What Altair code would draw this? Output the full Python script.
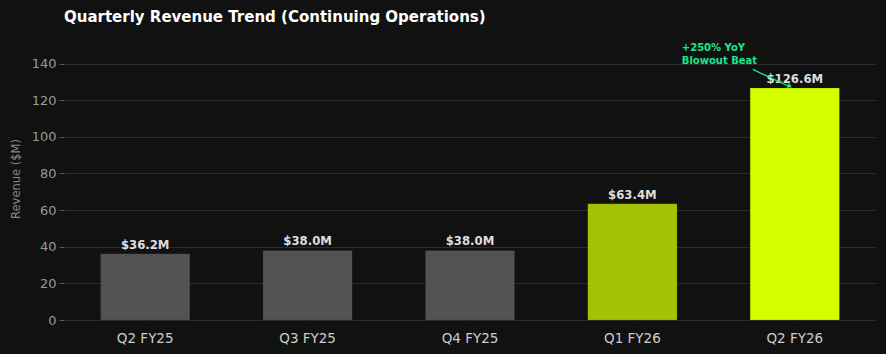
import altair as alt
import pandas as pd

quarters = ["Q2 FY25", "Q3 FY25", "Q4 FY25", "Q1 FY26", "Q2 FY26"]
revenue = [36.2, 38.0, 38.0, 63.4, 126.6]
labels = ["$36.2M", "$38.0M", "$38.0M", "$63.4M", "$126.6M"]
bar_colors = ["#535353", "#535353", "#535353", "#a3c304", "#d4ff00"]
y_ticks = [0, 20, 40, 60, 80, 100, 120, 140]

annot_quarter = ["Q2 FY26"]
annot_text = [["+250% YoY", "Blowout Beat"]]
annot_y = [148.3]
arrow_start = [136.8]
arrow_end = [127.6]

df = pd.DataFrame({"q": quarters, "rev": revenue, "label": labels, "color": bar_colors})
ann = pd.DataFrame({"q": annot_quarter, "text": annot_text, "y": annot_y,
                    "y1": arrow_start, "y2": arrow_end})

x = alt.X("q:N", sort=quarters, title=None,
          scale=alt.Scale(paddingInner=0.45, paddingOuter=0.225),
          axis=alt.Axis(labelAngle=0, labelColor="#cccccc", labelFontSize=13.5,
                        labelFont="DejaVu Sans", tickColor="#1a1a1a", tickSize=4,
                        labelPadding=7, domain=False, grid=False))
y = alt.Y("rev:Q", title="Revenue ($M)",
          scale=alt.Scale(domain=[0, 154.5], nice=False, zero=True),
          axis=alt.Axis(values=y_ticks, labelColor="#999999", labelFontSize=13,
                        labelFont="DejaVu Sans", tickColor="#555555", tickSize=5,
                        labelPadding=3, domain=False, gridColor="#2c2c2c",
                        gridWidth=1, titleColor="#888888", titleFontSize=11.5,
                        titleFont="DejaVu Sans", titleFontWeight="normal",
                        titlePadding=10))

base = alt.Chart(df)
bars = base.mark_bar(strokeWidth=1, stroke="#00000022").encode(
    x=x, y=y, color=alt.Color("color:N", scale=None))
texts = base.mark_text(fontWeight="bold", fontSize=11.7, color="#dddddd",
                       baseline="bottom", dy=-3, font="DejaVu Sans").encode(
    x=alt.X("q:N", sort=quarters), y="rev:Q", text="label:N")

ann_base = alt.Chart(ann)
ann_text = ann_base.mark_text(align="left", baseline="middle", fontWeight="bold",
                              fontSize=10, color="#19e68c", dx=-113, lineHeight=13,
                              font="DejaVu Sans").encode(
    x=alt.X("q:N", sort=quarters), y=alt.Y("y:Q"), text="text")
ann_rule = ann_base.mark_rule(color="#19e68c", strokeWidth=1.3, xOffset=-42,
                              x2Offset=-6).encode(
    x=alt.X("q:N", sort=quarters), x2=alt.X2("q"), y="y1:Q", y2="y2:Q")
ann_head = ann_base.mark_point(shape="triangle-right", filled=True, size=30,
                               color="#19e68c", opacity=1, angle=25,
                               xOffset=-5).encode(
    x=alt.X("q:N", sort=quarters), y="y2:Q")

chart = alt.layer(bars, texts, ann_rule, ann_head, ann_text).properties(
    width=812, height=283,
    title=alt.TitleParams("Quarterly Revenue Trend (Continuing Operations)",
                          anchor="start", color="white", fontSize=15,
                          font="DejaVu Sans", fontWeight="bold", offset=12, frame="group"),
    background="#111111",
    padding={"left": 64, "top": 37, "right": 10, "bottom": 34},
    autosize=alt.AutoSizeParams(type="none"),
).configure_view(stroke=None)

chart.save("out.html", embed_options={"renderer": "svg", "actions": False})
